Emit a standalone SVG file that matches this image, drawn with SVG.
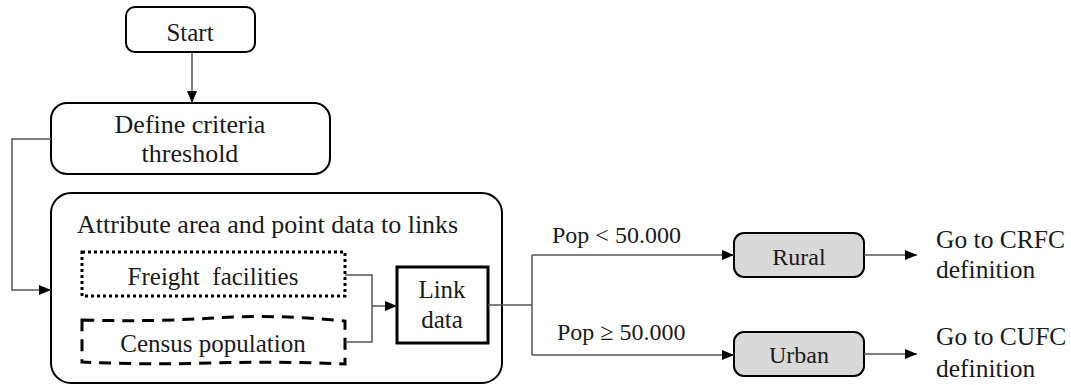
<svg xmlns="http://www.w3.org/2000/svg" width="1071" height="385" viewBox="0 0 1071 385">
<style>
text{font-family:"Liberation Serif","Times New Roman",serif;fill:#1a1a1a;}
.box{fill:#fff;stroke:#000;stroke-width:2;}
.gray{fill:#d9d9d9;stroke:#000;stroke-width:2;}
.con{fill:none;stroke:#555;stroke-width:1.5;}
.c{text-anchor:middle;}
</style>
<defs>
<marker id="arr" viewBox="0 0 12 10" refX="12" refY="5" markerWidth="12" markerHeight="10" markerUnits="userSpaceOnUse" orient="auto">
<path d="M0,0 L12,5 L0,10 Z" fill="#000"/>
</marker>
</defs>
<g id="start">
<rect class="box" x="126" y="7" width="129" height="45" rx="9"/>
<text class="c" x="190" y="41" font-size="25">Start</text>
</g>
<g id="define">
<rect class="box" x="51" y="103" width="279" height="71" rx="16"/>
<text class="c" x="190" y="133" font-size="26">Define criteria</text>
<text class="c" x="190" y="162" font-size="26">threshold</text>
</g>
<g id="attribute">
<rect class="box" x="51" y="193" width="451" height="190" rx="20"/>
<text x="77" y="233" font-size="26">Attribute area and point data to links</text>
</g>
<g id="freight">
<rect x="82" y="252" width="263" height="44" fill="#fff" stroke="#000" stroke-width="3" stroke-dasharray="3 3"/>
<text class="c" x="213" y="285" font-size="25" style="white-space:pre">Freight  facilities</text>
</g>
<g id="census">
<path d="M82,320 Q150,322 213,318 T345,321 L345,364 Q280,361 213,363 T82,362 Z" fill="#fff" stroke="#000" stroke-width="3" stroke-dasharray="12 8"/>
<text class="c" x="213" y="352" font-size="25">Census population</text>
</g>
<g id="linkdata">
<rect x="397" y="267" width="91" height="76" fill="#fff" stroke="#000" stroke-width="3"/>
<text class="c" x="442" y="298" font-size="25">Link</text>
<text class="c" x="442" y="328" font-size="25">data</text>
</g>
<g id="rural">
<rect class="gray" x="734" y="233" width="130" height="44" rx="10"/>
<text class="c" x="799" y="265" font-size="24">Rural</text>
</g>
<g id="urban">
<rect class="gray" x="734" y="332" width="130" height="44" rx="10"/>
<text class="c" x="799" y="363" font-size="24">Urban</text>
</g>
<g id="crfc">
<text x="936" y="248" font-size="25.5">Go to CRFC</text>
<text x="936" y="278" font-size="25.5">definition</text>
</g>
<g id="cufc">
<text x="936" y="345" font-size="25.5">Go to CUFC</text>
<text x="936" y="377" font-size="25.5">definition</text>
</g>
<g id="connectors">
<path class="con" d="M192,52 V103" marker-end="url(#arr)"/>
<path class="con" d="M51,139 H12 V290 H51" marker-end="url(#arr)"/>
<path class="con" d="M345,275 H372 V342 H345"/>
<path class="con" d="M372,306 H397" marker-end="url(#arr)"/>
<path class="con" d="M488,305 H532"/>
<path class="con" d="M532,255 V355"/>
<path class="con" d="M532,255 H734" marker-end="url(#arr)"/>
<path class="con" d="M532,355 H734" marker-end="url(#arr)"/>
<path class="con" d="M864,255 H917" marker-end="url(#arr)"/>
<path class="con" d="M864,354 H917" marker-end="url(#arr)"/>
<text x="552" y="243" font-size="24">Pop &lt; 50.000</text>
<text x="557" y="340" font-size="24">Pop ≥ 50.000</text>
</g>
</svg>
